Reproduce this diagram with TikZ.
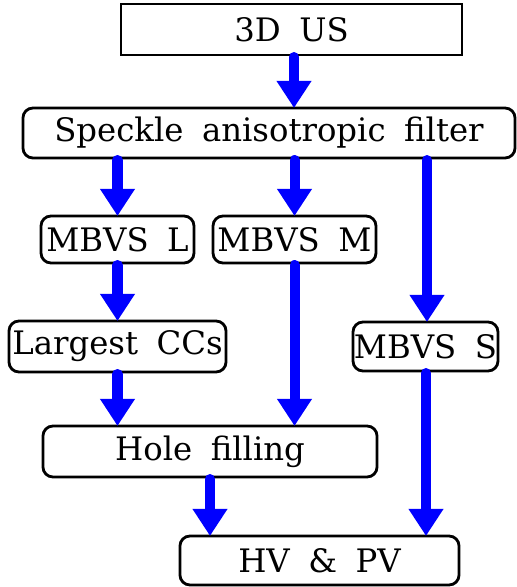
\documentclass[tikz,border=0pt]{standalone}
\usepackage{fontspec}
\setmainfont[WordSpace=1.8]{DejaVu Serif}
\usetikzlibrary{arrows.meta}

\begin{document}
\begin{tikzpicture}[x=0.025cm, y=-0.025cm,
		box/.style={draw, line width=0.07cm, rounded corners=0.25cm, inner sep=0pt, outer sep=0pt, font=\fontsize{23}{27}\selectfont},
		flow/.style={draw=blue, line width=0.25cm, line cap=round, shorten <=0.05cm, -{Triangle[width=0.825cm, length=0.675cm]}, blue}]
		%%%%% START %%%%%
		\useasboundingbox (0, 0) rectangle (516, 587);
		
		\node[box, sharp corners, minimum width=8.525cm, minimum height=1.275cm] (us) at (291.5, 29.5) {3D US};
		\node[box, minimum width=12.3cm, minimum height=1.25cm] (filter) at (269, 133) {Speckle anisotropic filter};
		
		\node[box, minimum width=3.825cm, minimum height=1.175cm] (mbvsL) at (117.5, 239.5) {MBVS L};
		\node[box, minimum width=4.075cm, minimum height=1.175cm] (mbvsM) at (294.5, 239.5) {MBVS M};
		
		\node[box, minimum width=5.425cm, minimum height=1.275cm] (largest) at (117.5, 346.5) {Largest CCs};
		\node[box, minimum width=3.625cm, minimum height=1.225cm] (mbvsS) at (425.5, 346.5) {MBVS S};
		
		\node[box, minimum width=8.35cm, minimum height=1.275cm] (hole) at (210, 451.5) {Hole filling};
		\node[box, minimum width=6.975cm, minimum height=1.225cm] (hvpv) at (319.5, 560.5) {HV \& PV};
		
		\draw[flow] (us.south -| 294, 0) -- (filter.north -| 294, 0);
		\draw[flow] (filter.south -| mbvsL.north) -- (mbvsL.north);
		\draw[flow] (filter.south -| mbvsM.north) -- (mbvsM.north);
		\draw[flow] (filter.south -| 427, 0) -- (mbvsS.north -| 427, 0);
		
		\draw[flow] (mbvsL.south) -- (largest.north);
		\draw[flow] (largest.south) -- (largest.south |- hole.north);
		\draw[flow] (mbvsM.south) -- (mbvsM.south |- hole.north);
		
		\draw[flow] (hole.south) -- (hole.south |- hvpv.north);
		\draw[flow] (mbvsS.south -| 426, 0) -- (hvpv.north -| 426, 0);
		%%%%% END %%%%%
\end{tikzpicture}
\end{document}
